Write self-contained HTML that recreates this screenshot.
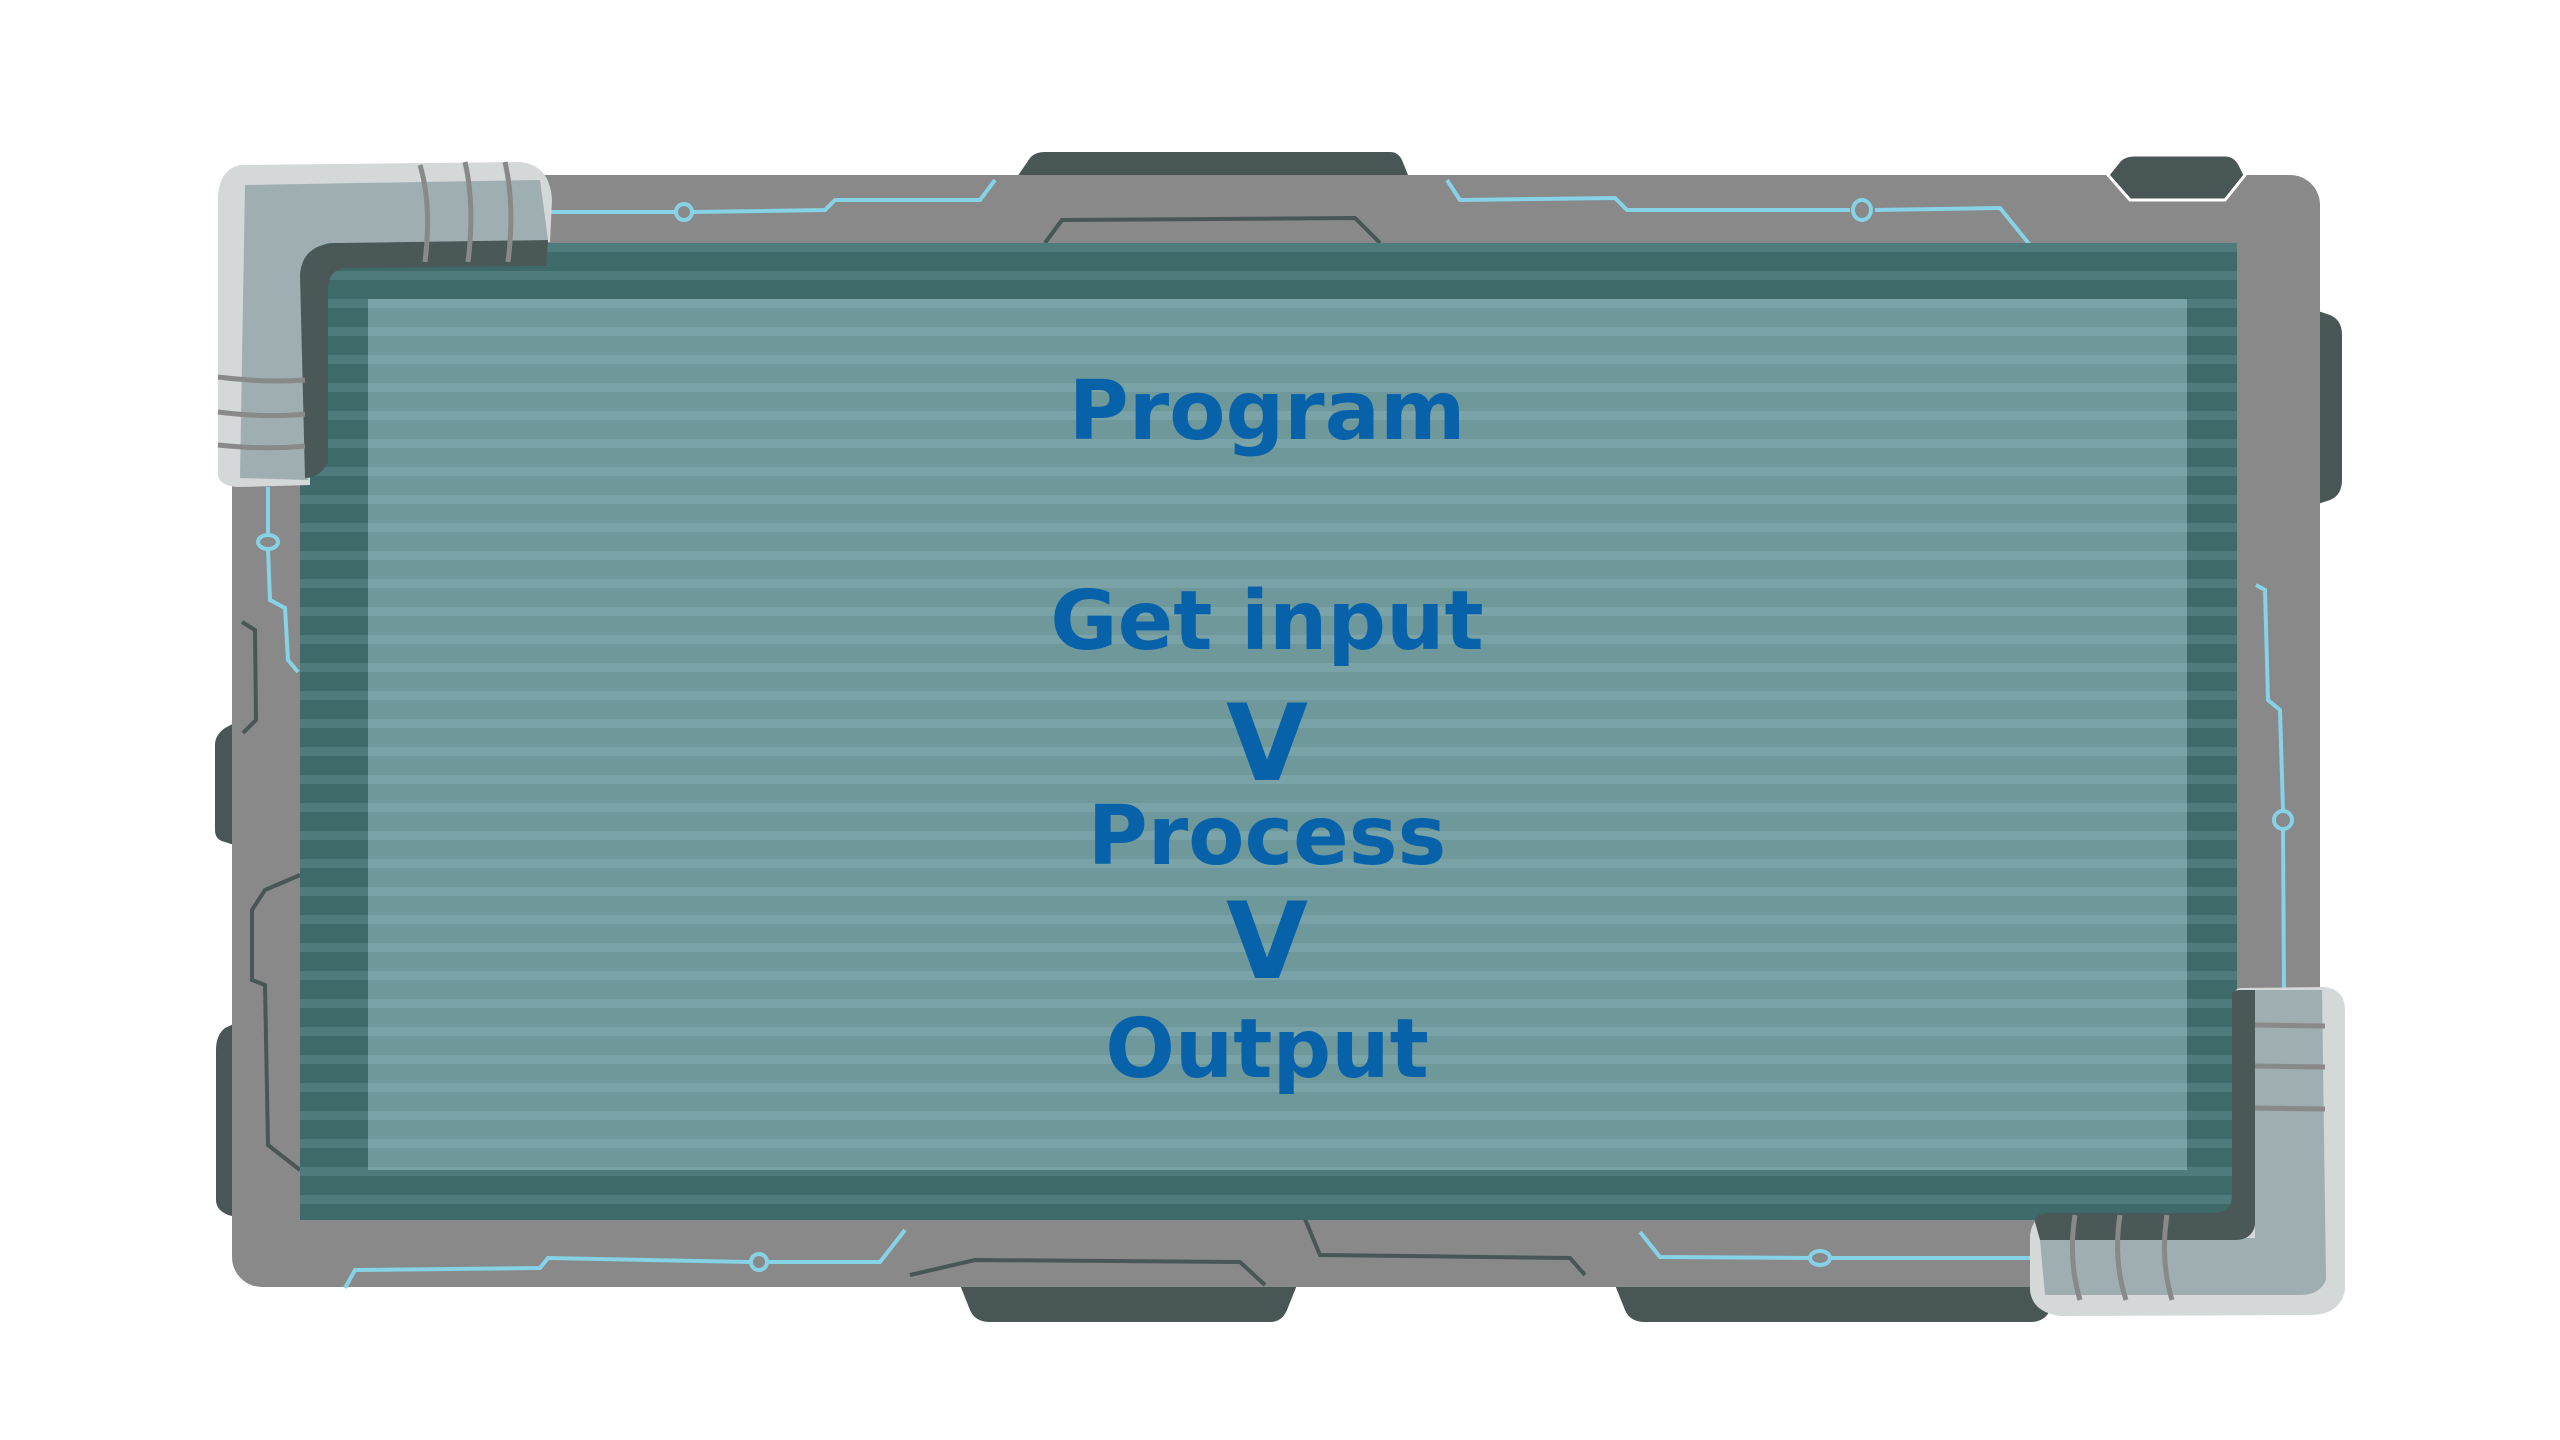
<!DOCTYPE html>
<html><head><meta charset="utf-8"><style>
html,body{margin:0;padding:0;background:#fff;width:2560px;height:1440px;overflow:hidden}
svg{display:block}
text{font-family:"DejaVu Sans","Liberation Sans",sans-serif;font-weight:bold;fill:#0862aa;text-anchor:middle}
</style></head><body>
<svg width="2560" height="1440" viewBox="0 0 2560 1440">
<defs>
<pattern id="tealStripes" x="0" y="243" width="40" height="28" patternUnits="userSpaceOnUse">
<rect width="40" height="28" fill="#3e6a6a"/><rect y="0" width="40" height="9" fill="#4f7b7c"/>
</pattern>
<pattern id="panelStripes" x="0" y="299" width="40" height="28" patternUnits="userSpaceOnUse">
<rect width="40" height="28" fill="#6f989b"/><rect y="0" width="40" height="9" fill="#7aa3a8"/>
</pattern>
</defs>
<!-- tabs -->
<g fill="#485656">
<path d="M1015 180 L1030 158 Q1035 152 1045 152 L1390 152 Q1398 152 1402 160 L1410 180 Z"/>
<path d="M2300 305 L2330 315 Q2342 320 2342 335 L2342 480 Q2342 495 2330 500 L2300 510 Z"/>
<path d="M240 720 L225 728 Q215 735 215 745 L215 830 Q215 840 225 842 L240 847 Z"/>
<path d="M240 1021 L225 1028 Q216 1035 216 1050 L216 1200 Q216 1210 228 1215 L240 1218 Z"/>
<path d="M960 1285 L970 1310 Q975 1322 990 1322 L1270 1322 Q1282 1322 1287 1310 L1297 1285 Z"/>
<path d="M1615 1285 L1625 1310 Q1630 1322 1645 1322 L2030 1322 Q2045 1322 2050 1310 L2060 1285 Z"/>
</g>
<!-- frame -->
<rect x="232" y="175" width="2088" height="1112" rx="30" fill="#898989"/>
<path d="M2108 175 L2120 160 Q2125 155 2135 155 L2225 155 Q2235 155 2240 165 L2245 175 L2225 200 L2130 200 Z" fill="#485656" stroke="#fff" stroke-width="3"/>
<!-- circuit lines -->
<g fill="none" stroke="#86d2e6" stroke-width="4">
<path d="M550 212 L675 212 M693 212 L825 210 L835 200 L980 200 L995 180"/>
<circle cx="684" cy="212" r="8"/>
<path d="M1447 180 L1460 200 L1615 198 L1627 210 L1850 210 M1875 210 L2000 208 L2030 245"/>
<ellipse cx="1862" cy="210" rx="9" ry="10"/>
<path d="M268 487 L268 535 M268 550 L270 600 L285 608 L288 660 L298 672"/>
<ellipse cx="268" cy="542" rx="10" ry="7"/>
<path d="M2256 585 L2265 590 L2268 700 L2280 710 L2283 810 M2283 830 L2284 990"/>
<circle cx="2283" cy="820" r="9"/>
<path d="M345 1288 L355 1270 L540 1268 L548 1258 L750 1262 M768 1262 L880 1262 L905 1230"/>
<circle cx="759" cy="1262" r="8"/>
<path d="M1640 1232 L1660 1257 L1810 1258 M1830 1258 L2035 1258"/>
<ellipse cx="1820" cy="1258" rx="10" ry="7"/>
</g>
<g fill="none" stroke="#485656" stroke-width="4">
<path d="M1045 243 L1062 220 L1355 218 L1380 243"/>
<path d="M242 622 L255 630 L256 720 L243 733"/>
<path d="M300 875 L265 890 L252 910 L252 980 L265 985 L268 1145 L300 1170"/>
<path d="M1305 1219 L1320 1255 L1570 1258 L1585 1275"/>
<path d="M910 1275 L975 1260 L1240 1262 L1265 1285"/>
</g>
<!-- screen -->
<rect x="300" y="243" width="1937" height="977" fill="url(#tealStripes)"/>
<rect x="368" y="299" width="1819" height="871" fill="url(#panelStripes)"/>
<!-- pipes top-left -->
<g>
<path d="M240 165 Q218 170 218 200 L218 475 Q220 487 240 487 L310 485 L312 250 Q315 243 330 243 L550 242 L552 200 Q550 165 520 162 Z" fill="#d4d8d9"/>
<path d="M245 185 L540 180 L548 240 L330 243 Q312 246 310 262 L308 480 L240 478 Z" fill="#9eaeb1"/>
<path d="M300 275 Q302 245 335 243 L548 240 L546 266 L345 268 Q328 270 328 290 L328 462 Q320 478 305 478 Z" fill="#4a5858"/>
<g stroke="#898989" stroke-width="5" fill="none">
<path d="M420 165 Q432 205 425 262"/><path d="M465 162 Q475 205 468 262"/><path d="M505 162 Q515 205 508 262"/>
<path d="M218 377 Q265 383 305 380"/><path d="M218 412 Q265 418 305 414"/><path d="M218 445 Q265 450 305 446"/>
</g>
</g>
<!-- pipes bottom-right -->
<g>
<path d="M2240 988 L2325 987 Q2345 990 2345 1010 L2345 1290 Q2340 1315 2310 1315 L2060 1316 Q2032 1312 2030 1290 L2030 1235 Q2033 1213 2055 1213 L2232 1213 L2232 1000 Q2232 990 2240 988 Z" fill="#d4d8d9"/>
<path d="M2255 990 L2322 990 L2326 1280 Q2320 1295 2300 1295 L2045 1295 L2040 1240 L2255 1238 Z" fill="#9eaeb1"/>
<path d="M2232 995 Q2232 990 2240 990 L2255 990 L2255 1225 Q2252 1240 2235 1240 L2040 1240 L2035 1222 Q2035 1213 2050 1213 L2215 1213 Q2232 1212 2232 1195 Z" fill="#4a5858"/>
<g stroke="#898989" stroke-width="5" fill="none">
<path d="M2255 1025 L2325 1026"/><path d="M2255 1066 L2325 1067"/><path d="M2255 1108 L2325 1109"/>
<path d="M2075 1215 Q2068 1260 2080 1300"/><path d="M2120 1215 Q2113 1260 2126 1300"/><path d="M2167 1215 Q2160 1260 2172 1300"/>
</g>
</g>
<!-- text -->
<g>
<text x="1267" y="439" font-size="82">Program</text>
<text x="1267" y="649" font-size="82">Get input</text>
<text x="1267" y="780" font-size="106">V</text>
<text x="1267" y="864" font-size="82">Process</text>
<text x="1267" y="978" font-size="106">V</text>
<text x="1267" y="1077" font-size="82">Output</text>
</g>
</svg>
</body></html>
